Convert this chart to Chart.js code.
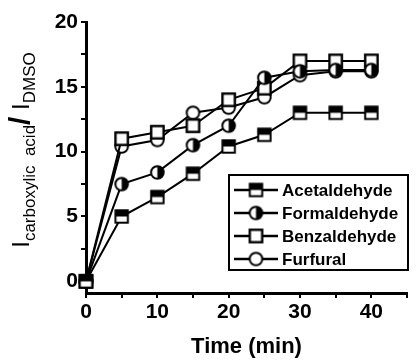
<!DOCTYPE html>
<html>
<head>
<meta charset="utf-8">
<script src="https://cdn.jsdelivr.net/npm/chart.js@4.4.1/dist/chart.umd.min.js"></script>
<style>
  html, body { margin: 0; padding: 0; background: #fff; }
  #wrap { width: 416px; height: 362px; }
</style>
</head>
<body>
<div id="wrap"><canvas id="chart" width="416" height="362"></canvas></div>
<script>
// Reaction time (min)
const timeMin = [0, 5, 10, 15, 20, 25, 30, 35, 40];

// Intensity ratio I(carboxylic acid) / I(DMSO) for each aldehyde
const acetaldehyde = [0, 5.0, 6.5, 8.3, 10.4, 11.3, 13.0, 13.0, 13.0];
const formaldehyde = [0, 7.5, 8.4, 10.5, 12.0, 15.7, 16.2, 16.3, 16.3];
const benzaldehyde = [0, 11.0, 11.5, 12.0, 14.0, 14.9, 17.0, 17.0, 17.0];
const furfural     = [0, 10.4, 10.9, 13.0, 13.4, 14.2, 15.9, 16.2, 16.2];

const seriesLabels = ['Acetaldehyde', 'Formaldehyde', 'Benzaldehyde', 'Furfural'];

// Axis ticks (labelled every 10 min / every 5 units, minor ticks between)
const xTickValues = [0, 5, 10, 15, 20, 25, 30, 35, 40, 45];
const xTickLabels = ['0', '', '10', '', '20', '', '30', '', '40', ''];
const yTickValues = [0, 2.5, 5, 7.5, 10, 12.5, 15, 17.5, 20];
const yTickLabels = ['0', '', '5', '', '10', '', '15', '', '20'];

// Marker glyphs drawn once on small canvases
function makeMarker(kind) {
  const s = 17;
  const c = document.createElement('canvas');
  c.width = s; c.height = s;
  const g = c.getContext('2d');
  const m = s / 2;
  g.lineWidth = 2;
  g.strokeStyle = '#000';
  if (kind === 'halfSquare' || kind === 'openSquare') {
    const h = 6.2;
    g.fillStyle = '#fff';
    g.fillRect(m - h, m - h, 2 * h, 2 * h);
    if (kind === 'halfSquare') {
      g.fillStyle = '#000';
      g.fillRect(m - h, m - h, 2 * h, h);
    }
    if (kind === 'openSquare') g.lineWidth = 2.4;
    g.strokeRect(m - h, m - h, 2 * h, 2 * h);
  } else {
    const r = 6.3;
    g.fillStyle = '#fff';
    g.beginPath(); g.arc(m, m, r, 0, Math.PI * 2); g.fill();
    if (kind === 'halfCircle') {
      g.fillStyle = '#000';
      g.beginPath();
      g.moveTo(m, m - r);
      g.arc(m, m, r, -Math.PI / 2, Math.PI / 2);
      g.closePath();
      g.fill();
    }
    g.beginPath(); g.arc(m, m, r, 0, Math.PI * 2); g.stroke();
  }
  return c;
}

const markers = [
  makeMarker('halfSquare'),
  makeMarker('halfCircle'),
  makeMarker('openSquare'),
  makeMarker('openCircle')
];

const seriesValues = [acetaldehyde, formaldehyde, benzaldehyde, furfural];

const datasets = seriesValues.map((vals, i) => ({
  label: seriesLabels[i],
  data: vals.map((v, j) => ({ x: timeMin[j], y: v })),
  borderColor: '#000',
  backgroundColor: '#000',
  borderWidth: 2,
  pointStyle: markers[i],
  pointRadius: 7,
  pointHoverRadius: 7,
  tension: 0,
  clip: false
}));

const tickFont = { family: '"Liberation Sans", Arial, sans-serif', size: 21, weight: 'bold' };

// Rotated y-axis title with subscripts
const yTitlePlugin = {
  id: 'yTitle',
  afterDraw(chart) {
    const ctx = chart.ctx;
    const mainFont = '24px "Liberation Sans", Arial, sans-serif';
    const subFont = '17px "Liberation Sans", Arial, sans-serif';
    const slashFont = 'bold 30px "Liberation Sans", Arial, sans-serif';
    const parts = [
      { t: 'I', f: mainFont, dy: 0 },
      { t: 'carboxylic  acid', f: subFont, dy: 6 },
      { t: '/', f: slashFont, dy: 1 },
      { t: ' I', f: mainFont, dy: 0 },
      { t: 'DMSO', f: subFont, dy: 6 }
    ];
    let total = 0;
    parts.forEach(p => { ctx.font = p.f; p.w = ctx.measureText(p.t).width; total += p.w; });
    ctx.save();
    ctx.translate(29, 150);
    ctx.rotate(-Math.PI / 2);
    ctx.fillStyle = '#000';
    ctx.textBaseline = 'alphabetic';
    ctx.textAlign = 'left';
    let u = -total / 2;
    parts.forEach(p => {
      ctx.font = p.f;
      ctx.fillText(p.t, u, p.dy);
      u += p.w;
    });
    ctx.restore();
  }
};

// Boxed legend inside the plot with line + marker samples
const boxLegendPlugin = {
  id: 'boxLegend',
  afterDraw(chart) {
    const ctx = chart.ctx;
    const box = { x: 229, y: 175, w: 179, h: 95 };
    ctx.save();
    ctx.fillStyle = '#fff';
    ctx.fillRect(box.x, box.y, box.w, box.h);
    ctx.lineWidth = 2;
    ctx.strokeStyle = '#000';
    ctx.strokeRect(box.x, box.y, box.w, box.h);
    ctx.font = 'bold 17px "Liberation Sans", Arial, sans-serif';
    ctx.textBaseline = 'middle';
    ctx.fillStyle = '#000';
    chart.data.datasets.forEach((ds, i) => {
      const cy = box.y + 15 + i * 23;
      ctx.beginPath();
      ctx.moveTo(box.x + 5, cy);
      ctx.lineTo(box.x + 49, cy);
      ctx.lineWidth = 2.5;
      ctx.stroke();
      const img = ds.pointStyle;
      ctx.drawImage(img, box.x + 27 - img.width / 2, cy - img.height / 2);
      ctx.fillText(ds.label, box.x + 53, cy + 1);
    });
    ctx.restore();
  }
};

new Chart(document.getElementById('chart'), {
  type: 'line',
  data: { datasets },
  options: {
    responsive: false,
    animation: false,
    events: [],
    layout: { padding: { top: 22, right: 1, left: 0, bottom: 0 } },
    plugins: {
      legend: { display: false },
      tooltip: { enabled: false }
    },
    scales: {
      x: {
        type: 'linear',
        min: 0,
        max: 45,
        afterBuildTicks(scale) { scale.ticks = xTickValues.map(v => ({ value: v })); },
        afterFit(scale) { scale.height = 69; },
        border: { display: true, color: '#000', width: 3 },
        grid: { display: true, drawOnChartArea: false, color: '#000', lineWidth: 2, tickLength: 5 },
        ticks: {
          color: '#000',
          font: tickFont,
          padding: 2,
          maxRotation: 0,
          autoSkip: false,
          callback: (v) => xTickLabels[xTickValues.indexOf(v)] ?? ''
        },
        title: {
          display: true,
          text: 'Time (min)',
          color: '#000',
          font: { family: '"Liberation Sans", Arial, sans-serif', size: 22, weight: 'bold' },
          padding: { top: 0, bottom: 2 }
        }
      },
      y: {
        type: 'linear',
        min: -0.9,
        max: 20,
        afterBuildTicks(scale) { scale.ticks = yTickValues.map(v => ({ value: v })); },
        afterFit(scale) { scale.width = 86; },
        border: { display: true, color: '#000', width: 3 },
        grid: { display: true, drawOnChartArea: false, color: '#000', lineWidth: 2, tickLength: 5 },
        ticks: {
          color: '#000',
          font: tickFont,
          padding: 3,
          autoSkip: false,
          callback: (v) => yTickLabels[yTickValues.indexOf(v)] ?? ''
        }
      }
    }
  },
  plugins: [yTitlePlugin, boxLegendPlugin]
});
</script>
</body>
</html>
